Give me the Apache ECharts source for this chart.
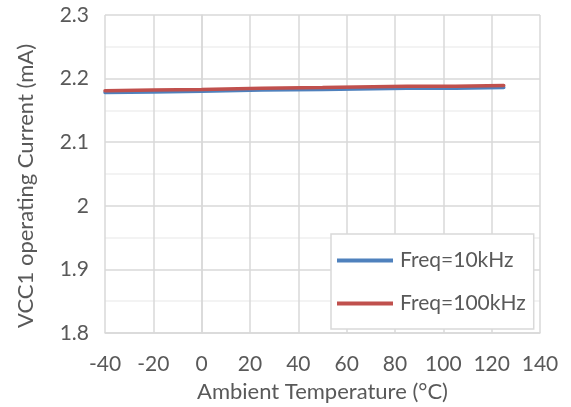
<!DOCTYPE html>
<html><head><meta charset="utf-8">
<script src="https://cdn.jsdelivr.net/npm/echarts@6/dist/echarts.min.js"></script>
<style>html,body{margin:0;padding:0;background:#fff}#c{width:571px;height:407px}</style>
</head><body><div id="c"></div>
<script>
const temps = [-40, -20, 0, 25, 50, 85, 105, 125];
const freq10k = [2.178, 2.179, 2.180, 2.182, 2.183, 2.185, 2.185, 2.186];
const freq100k = [2.181, 2.182, 2.183, 2.185, 2.186, 2.188, 2.188, 2.189];
const seriesNames = ['Freq=10kHz', 'Freq=100kHz'];
const xTitle = 'Ambient Temperature (°C)';
const yTitle = 'VCC1 operating Current (mA)';

const font = 'Lato, "Liberation Sans", sans-serif';
const txt = '#595959';
const chart = echarts.init(document.getElementById('c'), null, {renderer: 'canvas'});
chart.setOption({
  animation: false,
  grid: {left: 105, right: 31, top: 15, bottom: 74, containLabel: false, outerBoundsMode: 'none'},
  xAxis: {
    type: 'value', min: -40, max: 140, interval: 20,
    axisLine: {show: true, lineStyle: {color: '#D9D9D9', width: 1.5}},
    axisTick: {show: false},
    axisLabel: {color: txt, fontFamily: font, fontSize: 21, margin: 21},
    splitLine: {show: true, lineStyle: {color: '#D9D9D9', width: 1.5}},
    name: xTitle, nameLocation: 'middle', nameGap: 48,
    nameTextStyle: {color: txt, fontFamily: font, fontSize: 22}
  },
  yAxis: {
    type: 'value', min: 1.8, max: 2.3, interval: 0.1,
    axisLine: {show: true, lineStyle: {color: '#D9D9D9', width: 1.5}},
    axisTick: {show: false},
    axisLabel: {color: txt, fontFamily: font, fontSize: 21, margin: 16,
      formatter: v => String(Math.round(v * 10) / 10)},
    splitLine: {show: true, lineStyle: {color: '#D9D9D9', width: 1.5}},
    minorTick: {show: false, splitNumber: 2},
    minorSplitLine: {show: true, lineStyle: {color: '#EFEFEF', width: 1.5}}
  },
  graphic: [{
    type: 'text', rotation: Math.PI / 2,
    x: 26, y: 186,
    style: {text: yTitle, fill: txt, font: '22px ' + font, textAlign: 'center', textVerticalAlign: 'middle'}
  }],
  legend: {
    left: 331, top: 234,
    orient: 'vertical',
    backgroundColor: '#fff', borderColor: '#D9D9D9', borderWidth: 1.5,
    padding: [16, 8, 15, 6],
    itemWidth: 56, itemHeight: 4, itemGap: 22,
    icon: 'rect',
    textStyle: {color: txt, fontFamily: font, fontSize: 21, padding: [0, 0, 0, 2]},
    data: seriesNames
  },
  series: [
    {name: seriesNames[0], type: 'line', showSymbol: false, color: '#4F81BD',
     lineStyle: {width: 3.5, cap: 'round'}, data: temps.map((t, i) => [t, freq10k[i]])},
    {name: seriesNames[1], type: 'line', showSymbol: false, color: '#C0504D',
     lineStyle: {width: 3.5, cap: 'round'}, data: temps.map((t, i) => [t, freq100k[i]])}
  ]
});
</script></body></html>
